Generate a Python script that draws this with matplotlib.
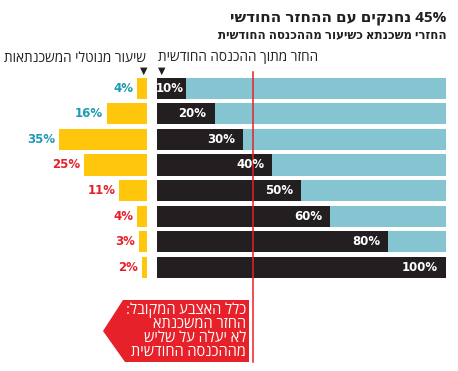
import matplotlib
matplotlib.use("Agg")
import matplotlib.pyplot as plt
from matplotlib.patches import Polygon

plt.rcParams['font.family'] = ['Open Sans', 'DejaVu Sans']

# נתונים
share_income = [10, 20, 30, 40, 50, 60, 80, 100]   # החזר מתוך ההכנסה החודשית
share_borrowers = [4, 16, 35, 25, 11, 4, 3, 2]     # שיעור מנוטלי המשכנתאות
rule_line = 100 / 3                                 # שליש מההכנסה

title = "נחנקים עם ההחזר החודשי"
title_num = "45%"
subtitle = "החזרי משכנתא כשיעור מההכנסה החודשית"
head_right = "החזר מתוך ההכנסה החודשית"
head_left = "שיעור מנוטלי המשכנתאות"
note_lines = ["כלל האצבע המקובל:", "החזר המשכנתא", "לא יעלה על שליש", "מההכנסה החודשית"]

BLACK = '#231f20'
TEAL = '#85c4d1'
YELLOW = '#ffc60b'
RED = '#e62129'
TEAL_TXT = '#1f9ab3'


def heb(s):
    # matplotlib אינו מטפל בכיווניות - הופכים לסדר חזותי
    return s[::-1]


W, H = 458, 371
fig = plt.figure(figsize=(W / 100, H / 100), dpi=100)

top_px, bot_px = 75.4, 280.1
n = len(share_income)
rows = list(range(n))

# צד ימין - ההחזר מההכנסה
axr = fig.add_axes([156.7 / W, 1 - bot_px / H, 289 / W, (bot_px - top_px) / H])
axr.barh(rows, [100] * n, height=0.83, color=TEAL)
axr.barh(rows, share_income, height=0.83, color=BLACK)
axr.set_xlim(0, 100)
axr.set_ylim(n - 0.5, -0.5)
axr.axis('off')
for i, v in enumerate(share_income):
    off = -2 if v < 15 else -8
    axr.annotate(f"{v}%", (v, i), xytext=(off * 0.72, 0), textcoords='offset points',
                 ha='right', va='center', color='white', fontsize=8.5, fontweight='bold',
                 family='DejaVu Sans', zorder=4)
axr.axvline(rule_line, ymin=-0.40, ymax=1.017, color=RED, lw=1.1, clip_on=False, zorder=3)

# צד שמאל - שיעור הלווים
axl = fig.add_axes([46.7 / W, 1 - bot_px / H, 100.3 / W, (bot_px - top_px) / H])
axl.barh(rows, share_borrowers, height=0.83, color=YELLOW)
axl.set_xlim(40, 0)
axl.set_ylim(n - 0.5, -0.5)
axl.axis('off')
for i, v in enumerate(share_borrowers):
    c = TEAL_TXT if i < 3 else RED
    axl.annotate(f"{v}%", (v, i), xytext=(-4 * 0.72, 0), textcoords='offset points',
                 ha='right', va='center', color=c, fontsize=8.5, fontweight='bold',
                 family='DejaVu Sans')

# כותרות
fig.text(446 / W, 1 - 18 / H, heb(title) + " " + title_num, ha='right', va='center',
         fontsize=11, fontweight='bold', color=BLACK)
fig.text(447 / W, 1 - 35 / H, heb(subtitle), ha='right', va='center',
         fontsize=8.5, fontweight='bold', color=BLACK)
fig.text(318 / W, 1 - 58 / H, heb(head_right), ha='right', va='center', fontsize=9.8, color=BLACK)
fig.text(146 / W, 1 - 58 / H, heb(head_left), ha='right', va='center', fontsize=9.8, color=BLACK)
for xp in (143.3, 161.7):
    fig.text(xp / W, 1 - 71 / H, "▼", ha='center', va='center', fontsize=7,
             color=BLACK, family='DejaVu Sans')

# תיבת כלל האצבע
pts = [(103, 331), (123, 300), (249, 300), (249, 362), (125, 362)]
fig.patches.append(Polygon([(x / W, 1 - y / H) for x, y in pts], closed=True,
                           transform=fig.transFigure, facecolor=RED, edgecolor='none'))
for k, line in enumerate(note_lines):
    fig.text(246 / W, 1 - (310 + 14 * k) / H, heb(line), ha='right', va='center',
             fontsize=10.5, color='white')

fig.savefig("out.png", dpi=100)
